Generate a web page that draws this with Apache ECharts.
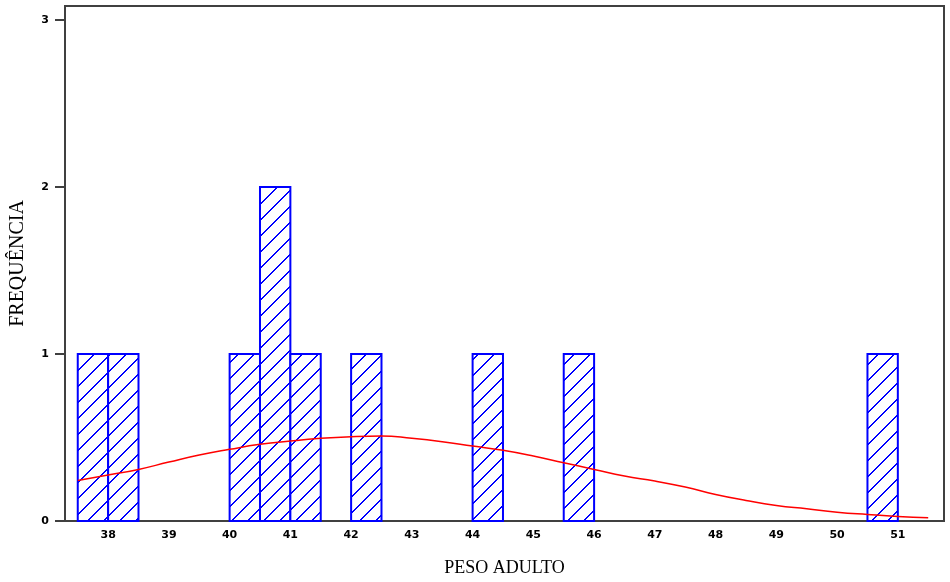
<!DOCTYPE html>
<html>
<head>
<meta charset="utf-8">
<script src="https://cdn.jsdelivr.net/npm/echarts@6/dist/echarts.min.js"></script>
<style>
html,body{margin:0;padding:0;background:#fff;}
#chart{width:950px;height:582px;}
</style>
</head>
<body>
<div id="chart"></div>
<script>
// Histogram bins (start, end) and frequencies
const binStart = [37.5, 38, 40, 40.5, 41, 42, 44, 45.5, 50.5];
const binEnd   = [38, 38.5, 40.5, 41, 41.5, 42.5, 44.5, 46, 51];
const counts   = [1, 1, 1, 2, 1, 1, 1, 1, 1];

// Fitted normal curve
const curveX = [37.5,38,38.5,39,39.5,40,40.5,41,41.5,42,42.5,43,43.5,44,44.5,45,45.5,46,46.5,47,47.5,48,48.5,49,49.5,50,50.5,51,51.5];
const curveY = [0.243,0.275,0.309,0.353,0.395,0.429,0.459,0.479,0.495,0.505,0.509,0.495,0.475,0.449,0.423,0.389,0.349,0.309,0.269,0.239,0.203,0.159,0.123,0.093,0.073,0.053,0.039,0.027,0.019];

// Tick labels
const xTicks = [38,39,40,41,42,43,44,45,46,47,48,49,50,51];
const yTicks = [0,1,2,3];

const xName = 'PESO ADULTO';
const yName = 'FREQUÊNCIA';

// hatch pattern (crisp pixel diagonal, pure blue)
const pc = document.createElement('canvas');
pc.width = 16; pc.height = 16;
const g = pc.getContext('2d');
g.fillStyle = '#ffffff';
g.fillRect(0,0,16,16);
g.fillStyle = '#0000ff';
for (let i = 0; i < 16; i++) {
  g.fillRect(i, 15 - i, 1, 1);
  g.fillRect((i + 1) % 16, 15 - i, 1, 1);
}
const hatch = {image: pc, repeat: 'repeat'};

const histData = binStart.map((s,i)=>[s, binEnd[i], counts[i]]);
const lineData = curveX.map((x,i)=>[x, curveY[i]]);

const chart = echarts.init(document.getElementById('chart'));
chart.setOption({
  animation: false,
  backgroundColor: '#ffffff',
  grid: {left: 65, top: 6, right: 6, bottom: 61, show: true, borderColor: '#404040', borderWidth: 2, backgroundColor: 'transparent'},
  xAxis: {
    type: 'value', min: 37.29, max: 51.76,
    name: xName, nameLocation: 'middle', nameGap: 38,
    nameTextStyle: {fontFamily: 'Liberation Serif', fontSize: 18, color: '#000'},
    axisLine: {show: true, lineStyle: {color: '#404040', width: 2}},
    axisTick: {show: false},
    splitLine: {show: false},
    axisLabel: {customValues: xTicks, margin: 9, fontFamily: 'DejaVu Sans', fontWeight: 'bold', fontSize: 11, color: '#000'}
  },
  yAxis: {
    type: 'value', min: 0, max: 3.084,
    name: yName, nameLocation: 'middle', nameGap: 37,
    nameTextStyle: {fontFamily: 'Liberation Serif', fontSize: 20, color: '#000'},
    axisLine: {show: true, lineStyle: {color: '#404040', width: 2}},
    axisTick: {show: true, customValues: yTicks, length: 10, lineStyle: {color: '#404040', width: 2}},
    splitLine: {show: false},
    axisLabel: {customValues: yTicks, margin: 16, fontFamily: 'DejaVu Sans', fontWeight: 'bold', fontSize: 11, color: '#000'}
  },
  series: [
    {
      type: 'custom',
      data: histData,
      encode: {x: [0,1], y: 2},
      renderItem: function(params, api){
        const p0 = api.coord([api.value(0), 0]);
        const p1 = api.coord([api.value(1), api.value(2)]);
        return {
          type: 'rect',
          shape: {x: p0[0], y: p1[1], width: p1[0]-p0[0], height: p0[1]-p1[1]},
          style: {fill: hatch, stroke: '#0000ff', lineWidth: 2}
        };
      },
      z: 2
    },
    {
      type: 'line',
      data: lineData,
      smooth: true,
      symbol: 'none',
      lineStyle: {color: '#ff0000', width: 1.5},
      z: 3
    }
  ]
});
</script>
</body>
</html>
